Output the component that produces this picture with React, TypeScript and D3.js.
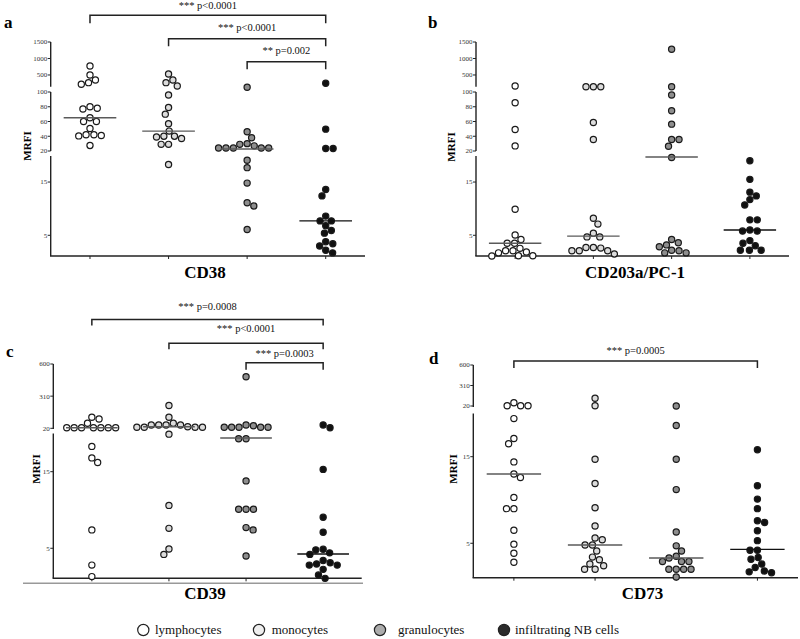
import React from "react";
import * as d3 from "d3";

// ---------- data ----------
const groups = ["lymphocytes", "monocytes", "granulocytes", "infiltrating NB cells"];

const cd38Values = [
  [773, 500, 348, 267, 218, 80, 78, 77, 65, 60, 60, 50.5, 42, 42, 41, 40.5, 27.5],
  [530, 348, 267, 167, 96, 79, 70, 57, 47, 40, 40, 39, 37, 29, 29, 18.3],
  [127, 46, 38, 30, 29, 27, 24, 24, 24, 24, 24, 19.1, 17.7, 14.8, 11.1, 10.5, 6.1],
  [248, 49.6, 23.3, 23.3, 13.6, 12.4, 8.6, 7.7, 7.7, 6.8, 5.9, 5.4, 3.8, 3.4, 3.0, 2.2, 1.7],
];
const cd38Medians = [65, 47, 22.8, 7.7];

const cd203Values = [
  [167, 85.4, 49.2, 26.9, 9.9, 5.05, 4.2, 3.5, 3.5, 2.55, 2.1, 2.1, 1.85, 1.7, 1.16, 1.1, 1.16],
  [145, 145, 145, 58.7, 35.6, 8.2, 7.1, 5.4, 4.7, 4.7, 2.7, 2.7, 2.6, 2.1, 2.1, 2.1, 1.5],
  [1279, 145, 95.9, 74.5, 56.4, 35.6, 35.6, 26.5, 19.6, 4.2, 3.6, 3.2, 2.85, 2.2, 2.1, 1.7, 1.7],
  [19, 15.5, 13.1, 12.4, 11.7, 10.7, 7.9, 7.9, 6.0, 5.8, 5.8, 4.0, 3.5, 3.05, 2.2, 2.2, 2.2],
];
const cd203Medians = [3.5, 4.85, 19.7, 6.0];

const cd39Values = [
  [119, 104, 65, 25.4, 25.4, 25.4, 25.4, 25.4, 25.4, 25.4, 18.3, 16.8, 16.2, 7.4, 2.8, 1.3],
  [225, 119, 65, 50, 50, 50, 50, 34, 29, 29, 29, 29, 19.9, 10.6, 7.6, 4.9, 4.2],
  [485, 50, 43, 29, 29, 29, 29, 29, 19.3, 19.3, 13.8, 10.1, 10.1, 10.1, 7.7, 7.4, 4.0],
  [50, 25.4, 15.3, 9.05, 7.1, 4.87, 4.78, 4.4, 4.2, 3.4, 3.1, 2.95, 2.8, 2.8, 2.25, 1.5, 1.07],
];
const cd39Medians = [25.4, 34, 19.4, 4.25];

const cd73Values = [
  [67, 24, 24, 24, 19.4, 17.1, 16.5, 14.4, 13.0, 12.6, 10.3, 9.0, 9.0, 6.5, 4.9, 3.85, 2.8],
  [129, 24, 14.7, 11.9, 9.1, 7.0, 5.6, 5.4, 4.8, 4.8, 4.1, 3.4, 3.1, 2.6, 2.4, 2.0, 2.0],
  [21, 18.6, 14.7, 11.2, 6.3, 4.7, 4.1, 3.5, 3.3, 2.9, 2.9, 2.9, 2.0, 2.0, 2.0, 2.0, 1.1],
  [15.8, 11.65, 10.1, 9.0, 7.6, 7.4, 6.45, 5.3, 4.2, 4.2, 3.35, 3.15, 2.6, 2.2, 1.8, 1.7, 1.6],
];
const cd73Medians = [13.0, 4.8, 3.3, 4.3];

const cd38Comparisons: [number, number, string][] = [
  [0, 3, "*** p<0.0001"],
  [1, 3, "*** p<0.0001"],
  [2, 3, "** p=0.002"],
];
const cd39Comparisons: [number, number, string][] = [
  [0, 3, "*** p=0.0008"],
  [1, 3, "*** p<0.0001"],
  [2, 3, "*** p=0.0003"],
];
const cd73Comparisons: [number, number, string][] = [[0, 3, "*** p=0.0005"]];

const ticksTopAB = [500, 1000, 1500];
const ticksMidAB = [20, 40, 60, 80, 100];
const ticksLow = [5, 15];
const ticksTopCD = [20, 310, 600];

// ---------- style ----------
const FONT = "'Liberation Serif', 'Times New Roman', serif";
const groupFill = ["#ffffff", "#dcdcdc", "#8e8e8e", "#111111"];
const legendFill = ["#ffffff", "#eeeeee", "#acacac", "#2b2b2b"];
const medianColor = ["#5a5a5a", "#5a5a5a", "#5a5a5a", "#111111"];
const R = 3.1;
const D = 7.4;

type Seg = { dom: [number, number]; rng: [number, number]; ticks: number[]; line: [number, number] };
type Bracket = { y: number; drop: number; textY: number };
type Panel = {
  letter: string; lx: number; ly: number;
  title: string; tx: number; ty: number;
  x0: number; x1: number; axisY: number;
  segs: Seg[];
  values: number[][]; medians: number[];
  comps: [number, number, string][]; brackets: Bracket[];
  mrfi: [number, number];
};

const panels: Panel[] = [
  {
    letter: "a", lx: 4, ly: 28, title: "CD38", tx: 205, ty: 278,
    x0: 50.7, x1: 365, axisY: 256,
    segs: [
      { dom: [120, 1500], rng: [87.5, 42], ticks: ticksTopAB, line: [42, 86.7] },
      { dom: [20, 100], rng: [151, 92], ticks: ticksMidAB, line: [92, 151] },
      { dom: [1, 20], rng: [256.6, 155.4], ticks: ticksLow, line: [156, 256] },
    ],
    values: cd38Values, medians: cd38Medians, comps: cd38Comparisons,
    brackets: [
      { y: 15.3, drop: 8, textY: 8.5 },
      { y: 38.7, drop: 7.5, textY: 30.5 },
      { y: 61.7, drop: 7.5, textY: 54 },
    ],
    mrfi: [31, 146],
  },
  {
    letter: "b", lx: 428, ly: 28, title: "CD203a/PC-1", tx: 635, ty: 278,
    x0: 476, x1: 789, axisY: 256,
    segs: [
      { dom: [120, 1500], rng: [87.5, 42], ticks: ticksTopAB, line: [42, 86.7] },
      { dom: [20, 100], rng: [151, 92], ticks: ticksMidAB, line: [92, 151] },
      { dom: [1, 20], rng: [256.6, 155.4], ticks: ticksLow, line: [156, 256] },
    ],
    values: cd203Values, medians: cd203Medians, comps: [], brackets: [],
    mrfi: [455, 147],
  },
  {
    letter: "c", lx: 6, ly: 357, title: "CD39", tx: 205, ty: 599,
    x0: 53.3, x1: 361.7, axisY: 578.3,
    segs: [
      { dom: [20, 600], rng: [428.3, 364], ticks: ticksTopCD, line: [364, 429] },
      { dom: [1, 20], rng: [578.9, 433.4], ticks: ticksLow, line: [433.5, 578.3] },
    ],
    values: cd39Values, medians: cd39Medians, comps: cd39Comparisons,
    brackets: [
      { y: 319.5, drop: 6, textY: 309.5 },
      { y: 343.3, drop: 6, textY: 332 },
      { y: 362.7, drop: 7, textY: 356.5 },
    ],
    mrfi: [40, 469],
  },
  {
    letter: "d", lx: 429, ly: 364, title: "CD73", tx: 642.5, ty: 599,
    x0: 473.3, x1: 798, axisY: 577.7,
    segs: [
      { dom: [20, 600], rng: [406, 365], ticks: ticksTopCD, line: [365, 407] },
      { dom: [1, 20], rng: [577.9, 413.4], ticks: ticksLow, line: [413.5, 577.7] },
    ],
    values: cd73Values, medians: cd73Medians, comps: cd73Comparisons,
    brackets: [{ y: 361, drop: 7, textY: 354 }],
    mrfi: [456.7, 469],
  },
];

const legendX = [143.3, 259, 380, 504];
const legendTextX = [155, 271.7, 398, 515];

// piecewise (broken) y scale built from d3 linear scales
function makeY(segs: Seg[]) {
  const scales = segs.map((s) => d3.scaleLinear().domain(s.dom).range(s.rng));
  return (v: number) => {
    for (let i = 0; i < segs.length; i++) {
      if (v >= segs[i].dom[0] || i === segs.length - 1) return scales[i](v);
    }
    return scales[scales.length - 1](v);
  };
}

function swarm(ys: number[]): number[] {
  const idx = ys.map((_, i) => i).sort((a, b) => ys[a] - ys[b]);
  const xs = new Array(ys.length).fill(0);
  const placed: number[] = [];
  let pref = 1;
  for (const i of idx) {
    const y = ys[i];
    const cands = [0];
    for (const j of placed) {
      const dy = Math.abs(ys[j] - y);
      if (dy < D) {
        const dx = Math.sqrt(D * D - dy * dy);
        cands.push(xs[j] + dx, xs[j] - dx);
      }
    }
    const ok = cands.filter((c) =>
      placed.every((j) => (xs[j] - c) ** 2 + (ys[j] - y) ** 2 >= D * D - 0.05)
    );
    ok.sort((a, b) => {
      const d = Math.round((Math.abs(a) - Math.abs(b)) * 100);
      if (d !== 0) return d;
      return pref * (b - a);
    });
    const x = ok[0];
    xs[i] = x;
    placed.push(i);
    if (Math.abs(x) > 0.01) pref = x > 0 ? -1 : 1;
  }
  return xs;
}

function PanelView({ p }: { p: Panel }) {
  const y = makeY(p.segs);
  const xs = d3.scalePoint<number>().domain([0, 1, 2, 3]).range([p.x0, p.x1]).padding(0.5);
  const step = xs.step();
  const segScales = p.segs.map((s) => d3.scaleLinear().domain(s.dom).range(s.rng));
  return (
    <g>
      <text x={p.lx} y={p.ly} fontFamily={FONT} fontWeight="bold" fontSize={17}>{p.letter}</text>
      {/* y axis */}
      {p.segs.map((s, si) => (
        <g key={si}>
          <line x1={p.x0} x2={p.x0} y1={s.line[0]} y2={s.line[1]} stroke="#222" strokeWidth={1.4} />
          {s.ticks.map((t) => (
            <g key={t}>
              <line x1={p.x0 - 3} x2={p.x0} y1={segScales[si](t)} y2={segScales[si](t)} stroke="#222" strokeWidth={1} />
              <text x={p.x0 - 3.5} y={segScales[si](t) + 2.4} textAnchor="end" fontFamily={FONT} fontSize={7} fill="#333">{t}</text>
            </g>
          ))}
        </g>
      ))}
      {/* x axis */}
      <line x1={p.x0 - 0.7} x2={p.x1} y1={p.axisY} y2={p.axisY} stroke="#222" strokeWidth={1.4} />
      {[0, 1, 2, 3].map((g) => (
        <line key={g} x1={xs(g)!} x2={xs(g)!} y1={p.axisY} y2={p.axisY + 3} stroke="#222" strokeWidth={1} />
      ))}
      <text x={p.tx} y={p.ty} textAnchor="middle" fontFamily={FONT} fontWeight="bold" fontSize={17}>{p.title}</text>
      <text transform={`translate(${p.mrfi[0]},${p.mrfi[1]}) rotate(-90)`} textAnchor="middle" fontFamily={FONT} fontWeight="bold" fontSize={11}>MRFI</text>
      {/* points */}
      {p.values.map((vals, g) => {
        const ys = vals.map(y);
        const dx = swarm(ys);
        return (
          <g key={g}>
            {vals.map((v, i) => (
              <circle key={i} cx={xs(g)! + dx[i]} cy={ys[i]} r={R} fill={groupFill[g]} stroke="#1a1a1a" strokeWidth={1.2} />
            ))}
          </g>
        );
      })}
      {/* medians */}
      {p.medians.map((m, g) => (
        <line key={g} x1={xs(g)! - step * 0.335} x2={xs(g)! + step * 0.335} y1={y(m)} y2={y(m)} stroke={medianColor[g]} strokeWidth={1.4} />
      ))}
      {/* brackets */}
      {p.comps.map(([a, b, label], k) => {
        const br = p.brackets[k];
        const xa = xs(a)!, xb = xs(b)!;
        return (
          <g key={k}>
            <path d={`M${xa},${br.y + br.drop}V${br.y}H${xb}V${br.y + br.drop}`} fill="none" stroke="#222" strokeWidth={1.5} />
            <text x={(xa + xb) / 2} y={br.textY} textAnchor="middle" fontFamily={FONT} fontSize={10.5} fill="#111">{label}</text>
          </g>
        );
      })}
    </g>
  );
}

export default function App() {
  return (
    <svg width={800} height={639} style={{ position: "absolute", left: 0, top: 0, background: "#fff" }}>
      <rect width={800} height={639} fill="#fff" />
      {panels.map((p) => (
        <PanelView key={p.letter} p={p} />
      ))}
      <line x1={23} x2={363} y1={583.3} y2={583.3} stroke="#999" strokeWidth={1.5} />
      {groups.map((g, i) => (
        <g key={g}>
          <circle cx={legendX[i]} cy={630} r={5.6} fill={legendFill[i]} stroke="#222" strokeWidth={1.2} />
          <text x={legendTextX[i]} y={634} fontFamily={FONT} fontSize={13} fill="#111">{g}</text>
        </g>
      ))}
    </svg>
  );
}
